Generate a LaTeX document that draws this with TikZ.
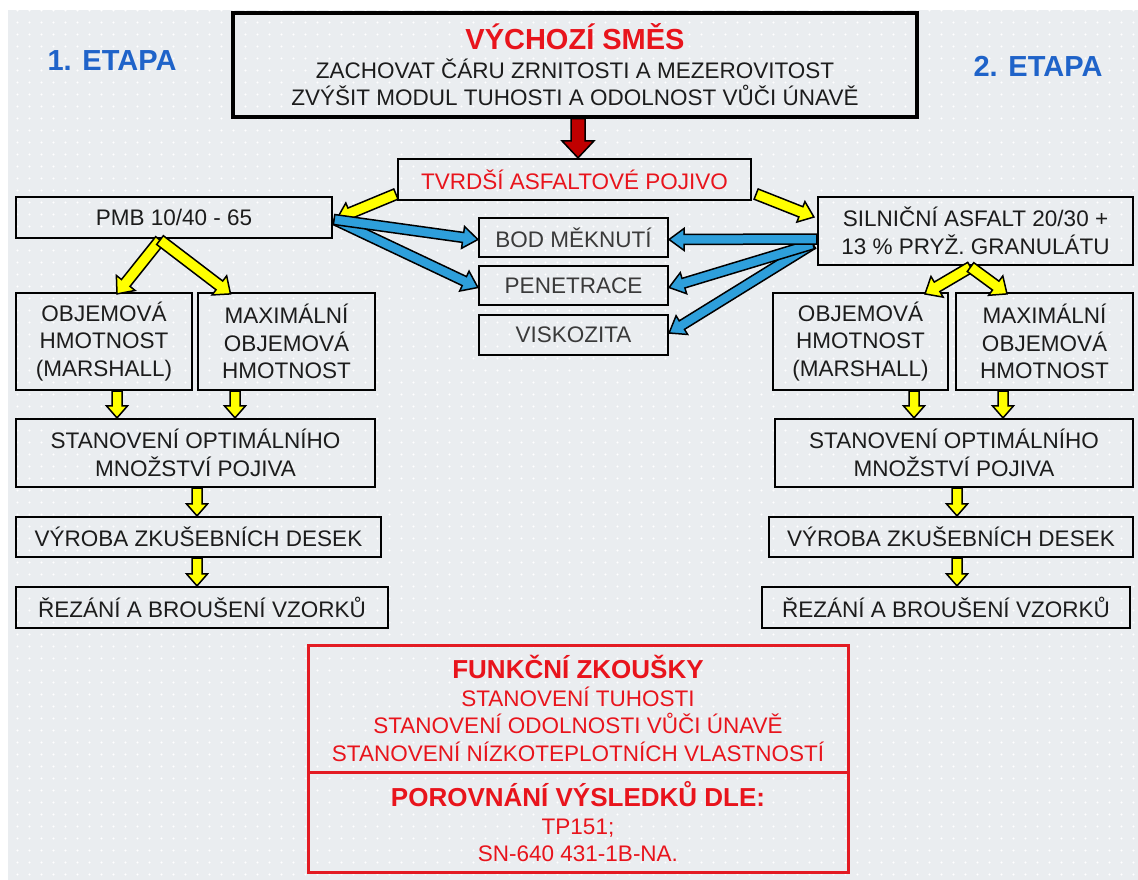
\documentclass[tikz,border=0pt]{standalone}
\usepackage{fontspec}
\setmainfont{Liberation Sans}
\usetikzlibrary{calc,patterns}
\definecolor{bgcol}{HTML}{EAEDF0}
\definecolor{txt}{HTML}{1C1C1C}
\definecolor{redt}{HTML}{E8141C}
\definecolor{redb}{HTML}{E31B23}
\definecolor{etapa}{HTML}{1F63C9}
\definecolor{yel}{HTML}{FFFF00}
\definecolor{blu}{HTML}{2E9FDB}
\definecolor{darkred}{HTML}{C00000}
\definecolor{gtxt}{HTML}{3A3A3A}

\pgfdeclarepatternformonly{bgdots}{\pgfqpoint{0pt}{0pt}}{\pgfqpoint{12pt}{12pt}}{\pgfqpoint{12pt}{12pt}}{\pgfpathcircle{\pgfqpoint{6pt}{6pt}}{1.2pt}\pgfusepath{fill}}

\newcommand{\mainf}{\fontsize{22.5}{27.5}\selectfont}
\newcommand{\bigb}{\fontsize{29}{29}\selectfont\bfseries}
\newcommand{\midb}{\fontsize{26}{27}\selectfont\bfseries}

% block arrow: #1 fill, #2 start, #3 end, #4 shaft half width, #5 head half width, #6 head length
\newcommand{\barrow}[6]{%
  \coordinate (bahb) at ($(#3)!#6!(#2)$);
  \filldraw[fill=#1, draw=black, line width=1.5pt, line join=miter]
    ($(#2)!#4!90:(#3)$) -- ($(bahb)!#4!90:(#3)$) -- ($(bahb)!#5!90:(#3)$) -- (#3)
    -- ($(bahb)!#5!-90:(#3)$) -- ($(bahb)!#4!-90:(#3)$) -- ($(#2)!#4!-90:(#3)$) -- cycle;
}

\tikzset{
  box/.style={draw=black, line width=2.2pt, inner sep=0pt, align=center, font=\mainf, text=txt},
  redbox/.style={draw=redb, line width=3pt, inner sep=0pt, align=center, font=\mainf, text=redt},
  sz/.style 2 args={minimum width=#1pt, minimum height=#2pt},
  etapalbl/.style={font=\bigb, text=etapa},
  testbox/.style={box, text=gtxt},
}

\begin{document}
\begin{tikzpicture}[x=1pt, y=-1pt]
\useasboundingbox (0,0) rectangle (1138,880);
\fill[white] (0,0) rectangle (1138,880);
\fill[bgcol] (8,10) rectangle (1138,880);
\fill[pattern=bgdots, pattern color=white] (8,10) rectangle (1138,880);

% labels
\node[etapalbl] (et1) at (112,61) {1. ETAPA};
\node[etapalbl] (et2) at (1038,66) {2. ETAPA};

% top
\node[box, line width=3.5pt, sz={684}{104}] (top) at (575,65)
  {{\bigb\color{redt}VÝCHOZÍ SMĚS}\\[1pt]
   ZACHOVAT ČÁRU ZRNITOSTI A MEZEROVITOST\\
   ZVÝŠIT MODUL TUHOSTI A ODOLNOST VŮČI ÚNAVĚ};

\node[box, sz={353}{41}, text=redt] (tvrd) at (574.5,179.5) {TVRDŠÍ ASFALTOVÉ POJIVO};

\node[box, sz={316}{41}] (pmb) at (174,217.5) {PMB 10/40 - 65};
\node[box, sz={315}{68}] (siln) at (975.5,231) {SILNIČNÍ ASFALT 20/30 +\\ 13 \% PRYŽ. GRANULÁTU};

\node[testbox, sz={189}{39}] (bod) at (573.5,237.5) {BOD MĚKNUTÍ};
\node[testbox, sz={189}{39}] (pen) at (573.5,285.5) {PENETRACE};
\node[testbox, sz={189}{40}] (vis) at (573.5,335) {VISKOZITA};

% left column
\node[box, sz={176}{97}] (obj1) at (104,341.5) {OBJEMOVÁ\\ HMOTNOST\\ (MARSHALL)};
\node[box, sz={177}{97}] (max1) at (286.5,341.5) {MAXIMÁLNÍ\\ OBJEMOVÁ\\ HMOTNOST};
\node[box, sz={359}{68}] (stan1) at (195.5,453) {STANOVENÍ OPTIMÁLNÍHO\\ MNOŽSTVÍ POJIVA};
\node[box, sz={365}{40}] (vyr1) at (198.5,537) {VÝROBA ZKUŠEBNÍCH DESEK};
\node[box, sz={372}{41}] (rez1) at (202,607.5) {ŘEZÁNÍ A BROUŠENÍ VZORKŮ};

% right column
\node[box, sz={175}{97}] (obj2) at (860.5,341.5) {OBJEMOVÁ\\ HMOTNOST\\ (MARSHALL)};
\node[box, sz={177}{97}] (max2) at (1044.5,341.5) {MAXIMÁLNÍ\\ OBJEMOVÁ\\ HMOTNOST};
\node[box, sz={358}{68}] (stan2) at (954,453) {STANOVENÍ OPTIMÁLNÍHO\\ MNOŽSTVÍ POJIVA};
\node[box, sz={364}{40}] (vyr2) at (951,537) {VÝROBA ZKUŠEBNÍCH DESEK};
\node[box, sz={368}{41}] (rez2) at (946,607.5) {ŘEZÁNÍ A BROUŠENÍ VZORKŮ};

% bottom
\node[redbox, sz={540}{127}] (fz) at (578,708.5)
  {{\midb FUNKČNÍ ZKOUŠKY}\\
   STANOVENÍ TUHOSTI\\
   STANOVENÍ ODOLNOSTI VŮČI ÚNAVĚ\\
   STANOVENÍ NÍZKOTEPLOTNÍCH VLASTNOSTÍ};
\node[redbox, sz={540}{100}] (por) at (578,822)
  {{\midb POROVNÁNÍ VÝSLEDKŮ DLE:}\\
   TP151;\\
   SN-640 431-1B-NA.};

% ---- arrows ----
\coordinate (rs) at ($(top.south)+(3,0)$);
\coordinate (re) at ($(tvrd.north)+(3.5,0)$);
\barrow{darkred}{rs}{re}{7pt}{16pt}{17pt}

\coordinate (yl1) at ($(tvrd.south west)+(-1,-7)$);
\coordinate (yl2) at ($(pmb.east)+(4,1)$);
\barrow{yel}{yl1}{yl2}{5.5pt}{11pt}{14pt}
\coordinate (yr1) at ($(tvrd.south east)+(4,-7)$);
\coordinate (yr2) at ($(siln.west)+(-3,-14)$);
\barrow{yel}{yr1}{yr2}{5.5pt}{11pt}{14pt}

% blue
\coordinate (bl0) at ($(pmb.east)+(1,2)$);
\coordinate (blb) at ($(bod.west)+(0,2)$);
\coordinate (blp) at ($(pen.west)+(0,2)$);
\barrow{blu}{bl0}{blp}{5pt}{11pt}{15pt}
\barrow{blu}{bl0}{blb}{5pt}{11pt}{15pt}
\coordinate (br0) at ($(siln.west)+(0,8)$);
\coordinate (br1) at ($(siln.west)+(-4,13)$);
\coordinate (brb) at ($(bod.east)+(0,2)$);
\coordinate (brp) at ($(pen.east)+(0,2)$);
\coordinate (brv) at ($(vis.east)+(0,-2)$);
\barrow{blu}{br1}{brv}{5pt}{11pt}{15pt}
\barrow{blu}{br1}{brp}{5pt}{11pt}{15pt}
\barrow{blu}{br0}{brb}{5pt}{11pt}{15pt}

% yellow splits
\coordinate (pl0) at ($(pmb.south)+(-14,1)$);
\coordinate (pl1) at ($(obj1.north)+(13,2)$);
\coordinate (pl2) at ($(max1.north)+(-56,2)$);
\barrow{yel}{pl0}{pl1}{5.5pt}{12pt}{14pt}
\barrow{yel}{pl0}{pl2}{5.5pt}{12pt}{14pt}
\coordinate (sr0) at ($(siln.south)+(-5,1)$);
\coordinate (sr1) at ($(obj2.north)+(64.5,2)$);
\coordinate (sr2) at ($(max2.north)+(-37.5,2)$);
\barrow{yel}{sr0}{sr1}{5.5pt}{12pt}{14pt}
\barrow{yel}{sr0}{sr2}{5.5pt}{12pt}{14pt}

% small down arrows left
\coordinate (a1s) at ($(obj1.south)+(13,0)$);
\coordinate (a1e) at (a1s |- stan1.north);
\barrow{yel}{a1s}{a1e}{5pt}{10.5pt}{12pt}
\coordinate (a2s) at ($(max1.south)+(-51.5,0)$);
\coordinate (a2e) at (a2s |- stan1.north);
\barrow{yel}{a2s}{a2e}{5pt}{10.5pt}{12pt}
\coordinate (a3s) at ($(stan1.south)+(1.5,0)$);
\coordinate (a3e) at (a3s |- vyr1.north);
\barrow{yel}{a3s}{a3e}{5pt}{10.5pt}{12pt}
\coordinate (a4s) at (a3s |- vyr1.south);
\coordinate (a4e) at (a3s |- rez1.north);
\barrow{yel}{a4s}{a4e}{5pt}{10.5pt}{12pt}

% small down arrows right
\coordinate (b1s) at ($(obj2.south)+(53.5,0)$);
\coordinate (b1e) at (b1s |- stan2.north);
\barrow{yel}{b1s}{b1e}{5pt}{10.5pt}{12pt}
\coordinate (b2s) at ($(max2.south)+(-41.5,0)$);
\coordinate (b2e) at (b2s |- stan2.north);
\barrow{yel}{b2s}{b2e}{5pt}{10.5pt}{12pt}
\coordinate (b3s) at ($(stan2.south)+(3,0)$);
\coordinate (b3e) at (b3s |- vyr2.north);
\barrow{yel}{b3s}{b3e}{5pt}{10.5pt}{12pt}
\coordinate (b4s) at (b3s |- vyr2.south);
\coordinate (b4e) at (b3s |- rez2.north);
\barrow{yel}{b4s}{b4e}{5pt}{10.5pt}{12pt}
\end{tikzpicture}
\end{document}
